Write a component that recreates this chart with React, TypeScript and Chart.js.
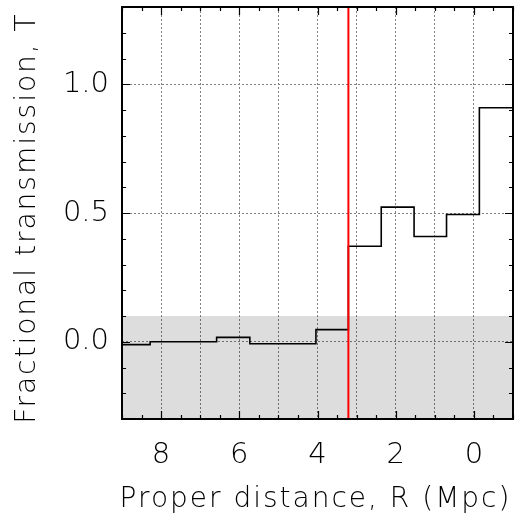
import React, { useEffect, useRef } from "react";
import { Chart, registerables } from "chart.js";

Chart.register(...registerables);

// Left edges of the transmission bins (Mpc) and the transmission in each bin
const BIN_LEFT_EDGES = [9.0, 8.28, 7.43, 6.58, 5.73, 4.88, 4.04, 3.21, 2.37, 1.53, 0.7, -0.14, -1.0];
const TRANSMISSION = [-0.011, 0.0, 0.0, 0.017, -0.008, -0.008, 0.047, 0.371, 0.523, 0.409, 0.494, 0.909, 0.909];

// Vertical marker position (Mpc)
const MARKER_R = 3.21;
// Grey band upper limit (noise level)
const BAND_TOP = 0.1;

// Axis ranges and tick labels
const X_RANGE = [-1, 9];
const Y_RANGE = [-0.3, 1.3];
const X_TICK_LABELS = [8, 6, 4, 2, 0];
const Y_TICK_LABELS = [0.0, 0.5, 1.0];

const X_TITLE = "Proper distance, R (Mpc)";
const Y_TITLE = "Fractional transmission, T";

const FONT_FAMILY = "'DejaVu Sans ExtraLight', 'DejaVu Sans', sans-serif";

const frameTicksPlugin = {
  id: "frameTicks",
  afterDraw(chart: any) {
    const { ctx, chartArea, scales } = chart;
    const xs = scales.x;
    const ys = scales.y;
    ctx.save();
    ctx.strokeStyle = "#000";
    ctx.lineWidth = 1.2;
    // minor / major ticks on all four sides, pointing inwards
    for (let i = 0; i <= (X_RANGE[1] - X_RANGE[0]) * 2; i++) {
      const v = X_RANGE[0] + i * 0.5;
      const major = X_TICK_LABELS.includes(v);
      const len = major ? 8 : 4;
      const px = Math.round(xs.getPixelForValue(v)) + 0.5;
      ctx.beginPath();
      ctx.moveTo(px, chartArea.bottom);
      ctx.lineTo(px, chartArea.bottom - len);
      ctx.moveTo(px, chartArea.top);
      ctx.lineTo(px, chartArea.top + len);
      ctx.stroke();
    }
    for (let i = 0; i <= Math.round((Y_RANGE[1] - Y_RANGE[0]) * 10); i++) {
      const v = Math.round((Y_RANGE[0] + i * 0.1) * 10) / 10;
      const major = Y_TICK_LABELS.some((t) => Math.abs(t - v) < 1e-6);
      const len = major ? 8 : 4;
      const py = Math.round(ys.getPixelForValue(v)) + 0.5;
      ctx.beginPath();
      ctx.moveTo(chartArea.left, py);
      ctx.lineTo(chartArea.left + len, py);
      ctx.moveTo(chartArea.right, py);
      ctx.lineTo(chartArea.right - len, py);
      ctx.stroke();
    }
    // frame
    ctx.lineWidth = 2;
    ctx.strokeRect(chartArea.left, chartArea.top, chartArea.right - chartArea.left, chartArea.bottom - chartArea.top);

    // axis titles (wide letter spacing, like the original plotting font)
    ctx.fillStyle = "#000";
    ctx.font = `200 28px ${FONT_FAMILY}`;
    (ctx as any).letterSpacing = "2px";
    ctx.textAlign = "center";
    ctx.textBaseline = "alphabetic";
    ctx.fillText(X_TITLE, (chartArea.left + chartArea.right) / 2 - 2, 507);
    ctx.save();
    ctx.translate(35, (chartArea.top + chartArea.bottom) / 2 + 5);
    ctx.rotate(-Math.PI / 2);
    ctx.fillText(Y_TITLE, 0, 0);
    ctx.restore();
    ctx.restore();
  },
};

export default function App() {
  const canvasRef = useRef<HTMLCanvasElement | null>(null);

  useEffect(() => {
    if (!canvasRef.current) return;
    const stepData = BIN_LEFT_EDGES.map((x, i) => ({ x, y: TRANSMISSION[i] }));
    const chart = new Chart(canvasRef.current, {
      type: "line",
      data: {
        datasets: [
          {
            label: "noise band",
            data: [
              { x: X_RANGE[1], y: BAND_TOP },
              { x: X_RANGE[0], y: BAND_TOP },
            ],
            fill: "start",
            backgroundColor: "rgba(0,0,0,0.135)",
            borderWidth: 0,
            pointRadius: 0,
            order: 3,
          },
          {
            label: "transmission",
            data: stepData,
            stepped: true,
            borderColor: "#000",
            borderWidth: 1.6,
            pointRadius: 0,
            fill: false,
            order: 2,
          },
          {
            label: "marker",
            data: [
              { x: MARKER_R, y: Y_RANGE[0] },
              { x: MARKER_R, y: Y_RANGE[1] },
            ],
            borderColor: "#ff0000",
            borderWidth: 2,
            pointRadius: 0,
            fill: false,
            order: 1,
          },
        ],
      },
      options: {
        animation: false,
        responsive: true,
        maintainAspectRatio: false,
        layout: { padding: { top: 7, right: 3, left: 0, bottom: 0 } },
        plugins: { legend: { display: false }, tooltip: { enabled: false } },
        scales: {
          x: {
            type: "linear",
            reverse: true,
            min: X_RANGE[0],
            max: X_RANGE[1],
            afterFit: (s: any) => {
              s.height = 99;
              s.paddingLeft = 0;
              s.paddingRight = 0;
            },
            border: { display: false, dash: [2, 2] },
            grid: {
              drawTicks: false,
              color: (c: any) =>
                c.tick && (c.tick.value === X_RANGE[0] || c.tick.value === X_RANGE[1]) ? "rgba(0,0,0,0)" : "#808080",
              lineWidth: 1,
            },
            ticks: {
              stepSize: 1,
              autoSkip: false,
              maxRotation: 0,
              padding: 19,
              color: "#000",
              font: { family: FONT_FAMILY, size: 29, weight: "200" as any },
              callback: (v: any) => (X_TICK_LABELS.includes(Number(v)) ? String(v) : ""),
            },
            title: { display: false, text: X_TITLE },
          },
          y: {
            type: "linear",
            min: Y_RANGE[0],
            max: Y_RANGE[1],
            afterFit: (s: any) => {
              s.width = 122;
              s.paddingTop = 0;
              s.paddingBottom = 0;
            },
            border: { display: false, dash: [2, 2] },
            grid: {
              drawTicks: false,
              color: "#808080",
              lineWidth: 1,
            },
            ticks: {
              stepSize: 0.5,
              includeBounds: false,
              padding: 13,
              color: "#000",
              font: { family: FONT_FAMILY, size: 29, weight: "200" as any },
              callback: (v: any) => Number(v).toFixed(1),
            },
            title: { display: false, text: Y_TITLE },
          },
        },
      },
      plugins: [frameTicksPlugin],
    } as any);
    return () => chart.destroy();
  }, []);

  return (
    <div style={{ position: "fixed", left: 0, top: 0, width: 516, height: 518, background: "#fff" }}>
      <canvas ref={canvasRef} />
    </div>
  );
}
